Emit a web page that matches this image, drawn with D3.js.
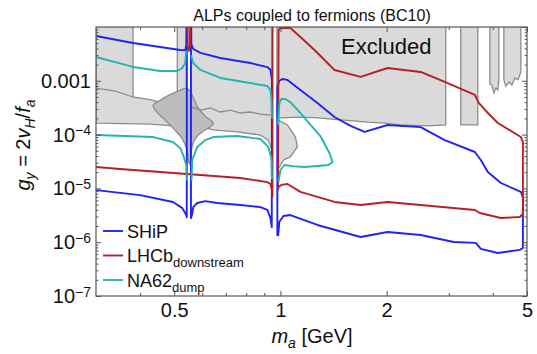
<!DOCTYPE html>
<html><head><meta charset="utf-8">
<script src="https://cdn.jsdelivr.net/npm/d3@7"></script>
<style>
body{margin:0;background:#fff}
svg{display:block;font-family:"Liberation Sans",Arial,sans-serif}
</style>
</head><body><div id="chart"></div>
<script>
// --- data: [m_a (GeV), g_Y] ---
const shipA_up = [[0.30,6.8e-3],[0.382,5.05e-3],[0.456,4.25e-3],[0.52,3.73e-3],[0.537,3.7e-3],[0.541,4.6e-3],[0.543,2e-2]];
const shipA_lo = [[0.30,9.3e-6],[0.40,7.5e-6],[0.496,5.6e-6],[0.527,4.3e-6],[0.537,3.5e-6],[0.541,3.1e-6],[0.5425,2.9e-6],[0.543,2e-2]];
const shipB = [[0.5575,2e-2],[0.5575,2.8e-6],[0.562,3.3e-6],[0.566,4.5e-6],[0.581,5.35e-6],[0.612,5.8e-6],[0.662,5.35e-6],[0.769,4.9e-6],[0.877,4.5e-6],[0.918,4.0e-6],[0.937,2.8e-6],[0.945,1.9e-6],[0.946,1.04e-3],[0.937,1.6e-3],[0.918,1.8e-3],[0.821,2.14e-3],[0.675,2.65e-3],[0.593,3.3e-3],[0.566,3.9e-3],[0.559,4.8e-3],[0.558,2e-2]];
const shipC = [[0.980,1.3e-6],[0.980,7.7e-4],[0.993,1.0e-3],[1.013,1.08e-3],[1.047,1.04e-3],[1.139,6.75e-4],[1.273,3.87e-4],[1.423,2.12e-4],[1.58,1.45e-4],[1.732,1.12e-4],[2.013,1.51e-4],[2.498,1.38e-4],[2.922,7.9e-5],[3.558,4.75e-5],[3.699,3.37e-5],[3.872,2.02e-5],[4.216,1.26e-5],[4.804,8.6e-6],[4.868,6.9e-6],[4.868,7.8e-7],[4.77,7.2e-7],[4.133,6.3e-7],[3.699,7.5e-7],[3.58,9.7e-7],[3.099,1.01e-6],[2.498,1.36e-6],[2.013,1.55e-6],[1.687,1.25e-6],[1.273,2.09e-6],[1.067,3.2e-6],[1.02,3.07e-6],[0.993,2.4e-6],[0.985,1.3e-6]];

const lhcbA = [[0.30,2.5e-5],[0.351,2.3e-5],[0.456,2.02e-5],[0.593,1.77e-5],[0.769,1.56e-5],[0.918,1.31e-5],[0.937,1.21e-5],[0.946,9.3e-6],[0.949,7e-6],[0.950,2e-2]];
const lhcbSpike = [[0.5455,2e-2],[0.546,4.5e-3],[0.550,3.6e-3],[0.554,4.5e-3],[0.5545,2e-2]];
const lhcbB = [[0.984,9.3e-6],[0.988,8.8e-3],[1.0,9.6e-3],[1.067,9.6e-3],[1.139,6.5e-3],[1.249,3.73e-3],[1.423,1.59e-3],[1.687,1.18e-3],[2.013,1.73e-3],[2.498,1.46e-3],[2.922,9.5e-4],[3.558,5.45e-4],[3.65,3.87e-4],[3.872,2.52e-4],[4.133,1.64e-4],[4.804,9.0e-5],[4.868,7.3e-5],[4.868,3.34e-6],[4.77,2.94e-6],[4.216,2.82e-6],[3.674,3.49e-6],[3.558,3.97e-6],[2.498,4.9e-6],[2.013,5.6e-6],[1.687,4.9e-6],[1.423,5.6e-6],[1.139,8.6e-6],[1.047,1.21e-5],[1.006,1.16e-5],[0.987,1.06e-5],[0.984,9.3e-6]];

const na62A_up = [[0.30,2.77e-3],[0.382,1.81e-3],[0.456,1.52e-3],[0.51,1.52e-3],[0.527,1.73e-3],[0.537,2.14e-3],[0.541,3.7e-3]];
const na62A_lo = [[0.30,9.84e-5],[0.436,9.0e-5],[0.496,7.3e-5],[0.52,5.6e-5],[0.53,4.2e-5],[0.541,2.7e-5],[0.543,1.4e-5]];
const na62B_up = [[0.558,3.0e-3],[0.566,2.14e-3],[0.593,1.59e-3],[0.675,1.13e-3],[0.821,9.1e-4],[0.918,8.0e-4],[0.937,6.75e-4],[0.943,4.4e-4],[0.946,2e-4]];
const na62B_lo = [[0.560,1.4e-5],[0.562,3.37e-5],[0.581,5.89e-5],[0.612,7.9e-5],[0.645,9.0e-5],[0.754,9.4e-5],[0.877,8.3e-5],[0.924,5.9e-5],[0.943,3.6e-5],[0.946,1.5e-5]];
const na62C = [[0.984,1.5e-4],[0.993,3.87e-4],[1.006,4.6e-4],[1.033,4.6e-4],[1.067,4.0e-4],[1.139,2.52e-4],[1.217,1.51e-4],[1.298,9.4e-5],[1.377,4.55e-5],[1.405,3.1e-5],[1.368,2.72e-5],[1.273,2.61e-5],[1.169,2.5e-5],[1.081,2.6e-5],[1.026,2.72e-5],[1.0,2.2e-5],[0.987,1.3e-5]];

// excluded regions (grey)
const exclLeft = [[0.3,0.011],[0.382,0.011],[0.382,5.0e-4],[0.43,4.4e-4],[0.51,3.3e-4],[0.51,0.011],[0.541,0.011],[0.541,1.5e-4],[0.496,1.45e-4],[0.427,1.57e-4],[0.3,1.64e-4]];
const exclMid = [[0.557,0.011],[0.946,0.011],[0.946,5.2e-5],[0.924,7.9e-5],[0.877,9.8e-5],[0.754,1.12e-4],[0.645,1.22e-4],[0.612,1.33e-4],[0.573,1.87e-4],[0.557,2.86e-4]];
const exclRight = [[0.977,0.011],[2.942,0.011],[2.942,1.51e-4],[2.614,1.45e-4],[2.19,1.51e-4],[1.974,1.64e-4],[1.766,1.71e-4],[1.273,2.04e-4],[1.139,2.12e-4],[1.0,2.04e-4],[0.977,2.0e-4]];
const exclRightLobe = [[0.98,1.9e-4],[1.047,1.51e-4],[1.103,9.0e-5],[1.117,5.9e-5],[1.067,3.84e-5],[1.02,3.37e-5],[0.993,2.5e-5],[0.98,2.2e-5]];
const exclCol1 = [[3.245,0.011],[3.627,0.011],[3.627,1.51e-4],[3.245,1.51e-4]];
const exclCol2 = [[3.924,0.011],[4.161,0.011],[4.161,1.04e-3],[4.133,6.75e-4],[4.08,7.34e-4],[4.027,5.93e-4],[3.975,8.36e-4],[3.924,8.72e-4]];
const exclCol3 = [[4.299,0.011],[4.804,0.011],[4.804,1.46e-3],[4.711,1.04e-3],[4.62,1.13e-3],[4.53,8.36e-4],[4.443,9.5e-4],[4.356,8.0e-4],[4.299,1.04e-3]];
const lobe = [[0.436,3.6e-4],[0.455,4.3e-4],[0.48,5.3e-4],[0.513,6.4e-4],[0.541,7.3e-4],[0.556,6.2e-4],[0.568,4.6e-4],[0.585,3.1e-4],[0.612,2.2e-4],[0.645,1.64e-4],[0.628,1.35e-4],[0.600,1.12e-4],[0.575,8.6e-5],[0.562,6.0e-5],[0.552,2.8e-5],[0.544,5.0e-5],[0.528,8.2e-5],[0.500,1.25e-4],[0.470,1.9e-4],[0.447,2.6e-4],[0.437,3.2e-4]];
const jagLeft = [[0.3,7.3e-4],[0.34,6.4e-4],[0.382,5.0e-4]];
const jagMid = [[0.559,3.26e-4],[0.593,2.86e-4],[0.632,3.12e-4],[0.675,2.63e-4],[0.721,2.86e-4],[0.769,2.52e-4],[0.821,2.63e-4],[0.877,2.41e-4],[0.937,2.31e-4]];

const xMajor = [0.5, 1, 2, 5];
const xMinor = [0.4, 0.6, 0.7, 0.8, 0.9, 3, 4];
const yMajor = [1e-7, 1e-6, 1e-5, 1e-4, 1e-3, 1e-2];
const yLabels = {1e-3: "0.001", 1e-4: "-4", 1e-5: "-5", 1e-6: "-6", 1e-7: "-7"};

const legendItems = [
    {name: "SHiP", sub: "", color: "#2222f5"},
    {name: "LHCb", sub: "downstream", color: "#b52026"},
    {name: "NA62", sub: "dump", color: "#22b5b0"},
];

// --- chart ---
const width = 537, height = 354;
const margin = {top: 27, right: 10, bottom: 58, left: 96};
const frameColor = "#555";

const svg = d3.select("#chart").append("svg")
    .attr("width", width)
    .attr("height", height);

const x = d3.scaleLog().domain([0.3, 5]).range([margin.left, width - margin.right]);
const y = d3.scaleLog().domain([1e-7, 1e-2]).range([height - margin.bottom, margin.top]);

svg.append("clipPath").attr("id", "plot")
    .append("rect")
    .attr("x", margin.left).attr("y", margin.top)
    .attr("width", width - margin.left - margin.right)
    .attr("height", height - margin.top - margin.bottom);

const line = d3.line().x(d => x(d[0])).y(d => y(d[1]));
const smoothClosed = d3.line().x(d => x(d[0])).y(d => y(d[1])).curve(d3.curveCatmullRomClosed);
const plot = svg.append("g").attr("clip-path", "url(#plot)");

// grey excluded regions
[exclLeft, exclMid, exclRight, exclRightLobe, exclCol1, exclCol2, exclCol3].forEach(p => {
    plot.append("path")
        .attr("d", line(p) + "Z")
        .attr("fill", "#dadada")
        .attr("stroke", "#8c8c8c")
        .attr("stroke-width", 1.3);
});
plot.append("path")
    .attr("d", smoothClosed(lobe))
    .attr("fill", "#bdbdbd")
    .attr("stroke", "#8c8c8c")
    .attr("stroke-width", 1.3);
[jagLeft, jagMid].forEach(p => {
    plot.append("path")
        .attr("d", line(p))
        .attr("fill", "none")
        .attr("stroke", "#8c8c8c")
        .attr("stroke-width", 1.3);
});

// sensitivity curves
const curves = [
    {data: [shipA_up, shipA_lo, shipB, shipC], color: legendItems[0].color},
    {data: [lhcbA, lhcbSpike, lhcbB], color: legendItems[1].color},
    {data: [na62A_up, na62A_lo, na62B_up, na62B_lo, na62C], color: legendItems[2].color},
];
curves.forEach(c => {
    plot.selectAll(null)
        .data(c.data)
        .join("path")
        .attr("d", line)
        .attr("fill", "none")
        .attr("stroke", c.color)
        .attr("stroke-width", 1.9)
        .attr("stroke-linejoin", "round");
});

// axes (ticks pointing inside)
const plotH = height - margin.top - margin.bottom;
const plotW = width - margin.left - margin.right;

function styleAxis(g) {
    g.select(".domain").remove();
    g.selectAll(".tick line").attr("stroke", frameColor);
    g.selectAll(".tick text").attr("fill", "#111").attr("font-size", 20);
}

svg.append("g")
    .attr("transform", `translate(0,${height - margin.bottom})`)
    .call(d3.axisBottom(x).tickValues(xMajor).tickSize(-5).tickPadding(7).tickFormat(d3.format("")))
    .call(styleAxis);
svg.append("g")
    .attr("transform", `translate(0,${height - margin.bottom})`)
    .call(d3.axisBottom(x).tickValues(xMinor).tickSize(-3).tickFormat(""))
    .call(styleAxis);
svg.append("g")
    .attr("transform", `translate(0,${margin.top})`)
    .call(d3.axisTop(x).tickValues(xMajor).tickSize(-5).tickFormat(""))
    .call(styleAxis);
svg.append("g")
    .attr("transform", `translate(0,${margin.top})`)
    .call(d3.axisTop(x).tickValues(xMinor).tickSize(-3).tickFormat(""))
    .call(styleAxis);

const yMinor = [];
yMajor.slice(0, -1).forEach(v => { for (let k = 2; k <= 9; k++) yMinor.push(v * k); });

const yAxisL = svg.append("g")
    .attr("transform", `translate(${margin.left},0)`)
    .call(d3.axisLeft(y).tickValues(yMajor.slice(0, -1)).tickSize(-5).tickPadding(5).tickFormat(""))
    .call(styleAxis);
yAxisL.selectAll(".tick text").each(function(d) {
    const t = d3.select(this);
    const lab = yLabels[d];
    if (d === 1e-3) { t.text(lab); return; }
    t.append("tspan").text("10");
    t.append("tspan").attr("dy", "-0.45em").attr("font-size", 14).text(lab.replace("-", "\u2212"));
});
svg.append("g")
    .attr("transform", `translate(${margin.left},0)`)
    .call(d3.axisLeft(y).tickValues(yMinor).tickSize(-2.5).tickFormat(""))
    .call(styleAxis);
svg.append("g")
    .attr("transform", `translate(${width - margin.right},0)`)
    .call(d3.axisRight(y).tickValues(yMajor).tickSize(-5).tickFormat(""))
    .call(styleAxis);
svg.append("g")
    .attr("transform", `translate(${width - margin.right},0)`)
    .call(d3.axisRight(y).tickValues(yMinor).tickSize(-2.5).tickFormat(""))
    .call(styleAxis);

// frame
svg.append("rect")
    .attr("x", margin.left).attr("y", margin.top)
    .attr("width", plotW).attr("height", plotH)
    .attr("fill", "none")
    .attr("stroke", frameColor)
    .attr("stroke-width", 1.2);

// texts
svg.append("text")
    .attr("x", 312).attr("y", 21)
    .attr("text-anchor", "middle")
    .attr("font-size", 16)
    .attr("fill", "#111")
    .text("ALPs coupled to fermions (BC10)");

svg.append("text")
    .attr("x", 341).attr("y", 54)
    .attr("font-size", 22)
    .attr("fill", "#111")
    .text("Excluded");

const xl = svg.append("text")
    .attr("x", 312).attr("y", 343)
    .attr("text-anchor", "middle")
    .attr("font-size", 20)
    .attr("fill", "#111");
xl.append("tspan").attr("font-style", "italic").text("m");
xl.append("tspan").attr("font-style", "italic").attr("font-size", 14).attr("dy", 5).text("a");
xl.append("tspan").attr("dy", -5).text(" [GeV]");

const yl = svg.append("text")
    .attr("transform", "translate(30,145) rotate(-90)")
    .attr("text-anchor", "middle")
    .attr("font-size", 20)
    .attr("fill", "#111");
yl.append("tspan").attr("font-style", "italic").text("g");
yl.append("tspan").attr("font-style", "italic").attr("font-size", 14).attr("dy", 5).text("y");
yl.append("tspan").attr("dy", -5).text(" = 2");
yl.append("tspan").attr("font-style", "italic").text("v");
yl.append("tspan").attr("font-style", "italic").attr("font-size", 14).attr("dy", 5).text("H");
yl.append("tspan").attr("dy", -5).text("/");
yl.append("tspan").attr("font-style", "italic").text("f");
yl.append("tspan").attr("font-style", "italic").attr("font-size", 14).attr("dy", 5).text("a");

// legend
const legend = svg.append("g");
legendItems.forEach((it, i) => {
    const ly = 231 + i * 24.5;
    legend.append("line")
        .attr("x1", 103).attr("x2", 123)
        .attr("y1", ly).attr("y2", ly)
        .attr("stroke", it.color).attr("stroke-width", 1.9);
    const t = legend.append("text")
        .attr("x", 127).attr("y", ly + 6.5)
        .attr("font-size", 18)
        .attr("fill", "#111");
    t.append("tspan").text(it.name);
    if (it.sub) t.append("tspan").attr("font-size", 13).attr("dy", 5).text(it.sub);
});
</script>
</body></html>
